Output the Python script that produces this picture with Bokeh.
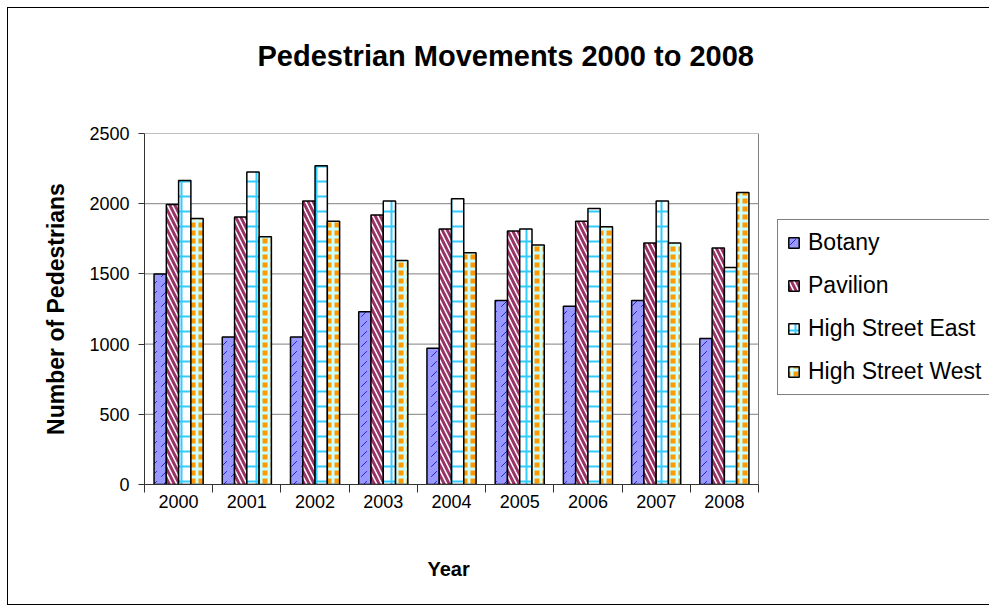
from bokeh.plotting import figure
from bokeh.models import ColumnDataSource, FixedTicker, Legend, LegendItem, Range1d, Title
from bokeh.embed import file_html
from bokeh.resources import INLINE

years = ["2000", "2001", "2002", "2003", "2004", "2005", "2006", "2007", "2008"]
botany = [1500, 1050, 1050, 1230, 970, 1310, 1270, 1310, 1040]
pavilion = [1995, 1905, 2020, 1920, 1820, 1805, 1875, 1720, 1685]
high_street_east = [2165, 2225, 2270, 2020, 2035, 1820, 1965, 2020, 1545]
high_street_west = [1895, 1765, 1875, 1595, 1650, 1705, 1835, 1720, 2080]
series_names = ["Botany", "Pavilion", "High Street East", "High Street West"]
y_ticks = [0, 500, 1000, 1500, 2000, 2500]

FONT = "Liberation Sans"
n = len(years)
idx = list(range(n))
bar_w = 0.18

W, H = 982, 598
left_px, plot_px = 136, 614          # plot area: left border and width in pixels
frame_px = W - left_px - 1
x_end = -0.5 + n * frame_px / plot_px  # frame extends right to host the legend

p = figure(width=W, height=H, output_backend="svg", toolbar_location=None,
           x_range=Range1d(-0.5, x_end), y_range=Range1d(0, 2500),
           min_border_left=left_px, min_border_right=1, min_border_top=125, min_border_bottom=122)
p.styles = {"margin": "7px 0 0 7px", "border-left": "1px solid black",
            "border-top": "1px solid black", "border-bottom": "1px solid black",
            "box-sizing": "border-box"}
p.outline_line_color = None

p.title.text = "Pedestrian Movements 2000 to 2008"
p.title.text_font = FONT
p.title.text_font_size = "29px"
p.title.text_font_style = "bold"
p.title.text_color = "black"
p.title.align = "left"
p.title.offset = 113
p.title.standoff = 53
# spacer between title and plot area
p.add_layout(Title(text=" ", text_font_size="1px", standoff=32), "above")

# gridlines and right border of the plot area
p.segment(x0=-0.5, x1=n - 0.5, y0=y_ticks, y1=y_ticks, line_color="#808080", line_width=1)
p.segment(x0=n - 0.5, x1=n - 0.5, y0=y_ticks[0], y1=y_ticks[-1], line_color="#808080", line_width=1)

styles = [
    dict(fill_color="#9999FF", hatch_pattern="right_diagonal_dash", hatch_color="#2222DD",
         hatch_scale=10, hatch_weight=1),
    dict(fill_color="white", hatch_pattern="left_diagonal_line", hatch_color="#993366",
         hatch_scale=10, hatch_weight=3),
    dict(fill_color="white", hatch_pattern="cross", hatch_color="#33CCFF",
         hatch_scale=15, hatch_weight=2),
    dict(fill_color="#FF9900", hatch_pattern="cross", hatch_color="#CCFFFF",
         hatch_scale=8, hatch_weight=3),
]
values = [botany, pavilion, high_street_east, high_street_west]
offsets = [-1.5 * bar_w, -0.5 * bar_w, 0.5 * bar_w, 1.5 * bar_w]

items = []
for name, vals, off, st in zip(series_names, values, offsets, styles):
    src = ColumnDataSource(dict(x=[i + off for i in idx], top=vals))
    r = p.vbar(x="x", top="top", bottom=0, width=bar_w, source=src,
               line_color="black", line_width=1.5, **st)
    items.append(LegendItem(label=name, renderers=[r]))

legend = Legend(items=items, location=(633, 89), margin=0, padding=9, spacing=16,
                label_height=24, glyph_width=13, glyph_height=13, label_standoff=8,
                border_line_color="black", border_line_width=1,
                label_text_font=FONT, label_text_font_size="23px", label_text_color="black",
                background_fill_color="white")
p.add_layout(legend, "center")

# axes
p.yaxis.ticker = FixedTicker(ticks=y_ticks)
p.yaxis.minor_tick_line_color = None
p.yaxis.major_tick_out = 6
p.yaxis.major_tick_in = 0
p.yaxis.axis_line_color = "#333333"
p.yaxis.major_tick_line_color = "#333333"
p.yaxis.major_label_text_font = FONT
p.yaxis.major_label_text_font_size = "18px"
p.yaxis.major_label_text_color = "black"
p.yaxis.axis_label = "Number of Pedestrians"
p.yaxis.axis_label_text_font = FONT
p.yaxis.axis_label_text_font_size = "23px"
p.yaxis.axis_label_text_font_style = "bold"
p.yaxis.axis_label_text_color = "black"
p.yaxis.axis_label_standoff = 17
p.yaxis.major_label_standoff = 9

p.xaxis.bounds = (-0.5, n - 0.5)
p.xaxis.ticker = FixedTicker(ticks=idx, minor_ticks=[i - 0.5 for i in range(n + 1)])
p.xaxis.major_label_overrides = {i: y for i, y in zip(idx, years)}
p.xaxis.major_tick_line_color = None
p.xaxis.minor_tick_line_color = "#333333"
p.xaxis.minor_tick_out = 8
p.xaxis.minor_tick_in = 0
p.xaxis.axis_line_color = "#333333"
p.xaxis.major_label_text_font = FONT
p.xaxis.major_label_text_font_size = "18px"
p.xaxis.major_label_text_color = "black"
p.xaxis.major_label_standoff = 2
# blank axis label only reserves a little room under the tick labels
p.xaxis.axis_label = " "
p.xaxis.axis_label_text_font_size = "14px"
p.xaxis.axis_label_standoff = 0

# x axis title, centred under the plot area
p.add_layout(Title(text="Year", text_font=FONT, text_font_size="20px", text_font_style="bold",
                   text_color="black", align="left", offset=283, standoff=52), "below")

p.xgrid.grid_line_color = None
p.ygrid.grid_line_color = None

open("out.html", "w").write(file_html(p, INLINE))
